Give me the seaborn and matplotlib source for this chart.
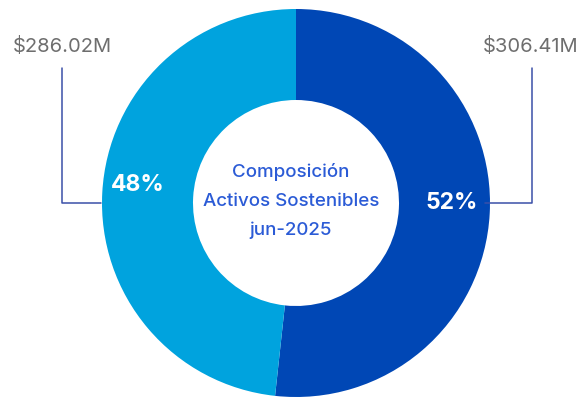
import matplotlib
matplotlib.use("Agg")
import matplotlib.pyplot as plt
import seaborn as sns

categories = ["Activo A", "Activo B"]
values = [306.41, 286.02]
value_labels = ["$306.41M", "$286.02M"]
pct_labels = ["52%", "48%"]
center_title = ["Composición", "Activos Sostenibles", "jun-2025"]
colors = ["#0047b5", "#00a3de"]

sns.set_theme(style="white")
plt.rcParams["font.family"] = ["Inter", "DejaVu Sans"]

W, H = 585, 398
fig = plt.figure(figsize=(W / 100, H / 100), dpi=100)
ax = fig.add_axes([0, 0, 1, 1])
ax.set_xlim(0, W)
ax.set_ylim(0, H)
ax.set_aspect("equal")
ax.axis("off")

cx, cy = 296, H - 203
R = 194
ring = 91

wedges, _ = ax.pie(values, colors=colors, startangle=90, counterclock=False,
                   center=(cx, cy), radius=R,
                   wedgeprops=dict(width=ring, linewidth=0))
ax.set_xlim(0, W)
ax.set_ylim(0, H)

# percent labels
ax.text(452, H - 203, pct_labels[0], color="white", fontsize=16.5, fontweight="bold",
        ha="center", va="center")
ax.text(138, H - 185, pct_labels[1], color="white", fontsize=16.5, fontweight="bold",
        ha="center", va="center")

# leader lines
line_c = "#3a4fa8"
ax.plot([485, 532, 532], [H - 203, H - 203, H - 68], color=line_c, lw=1.1)
ax.plot([101, 62, 62], [H - 203, H - 203, H - 68], color=line_c, lw=1.1)

ax.text(531, H - 47, value_labels[0], color="#6e6e6e", fontsize=14.5,
        ha="center", va="center")
ax.text(62, H - 47, value_labels[1], color="#6e6e6e", fontsize=14.5,
        ha="center", va="center")

# center text
for i, t in enumerate(center_title):
    ax.text(cx - 5, H - (172 + 29 * i), t, color="#2b5bd6", fontsize=13.5,
            fontweight="medium", ha="center", va="center")

fig.savefig("out.png", dpi=100)
